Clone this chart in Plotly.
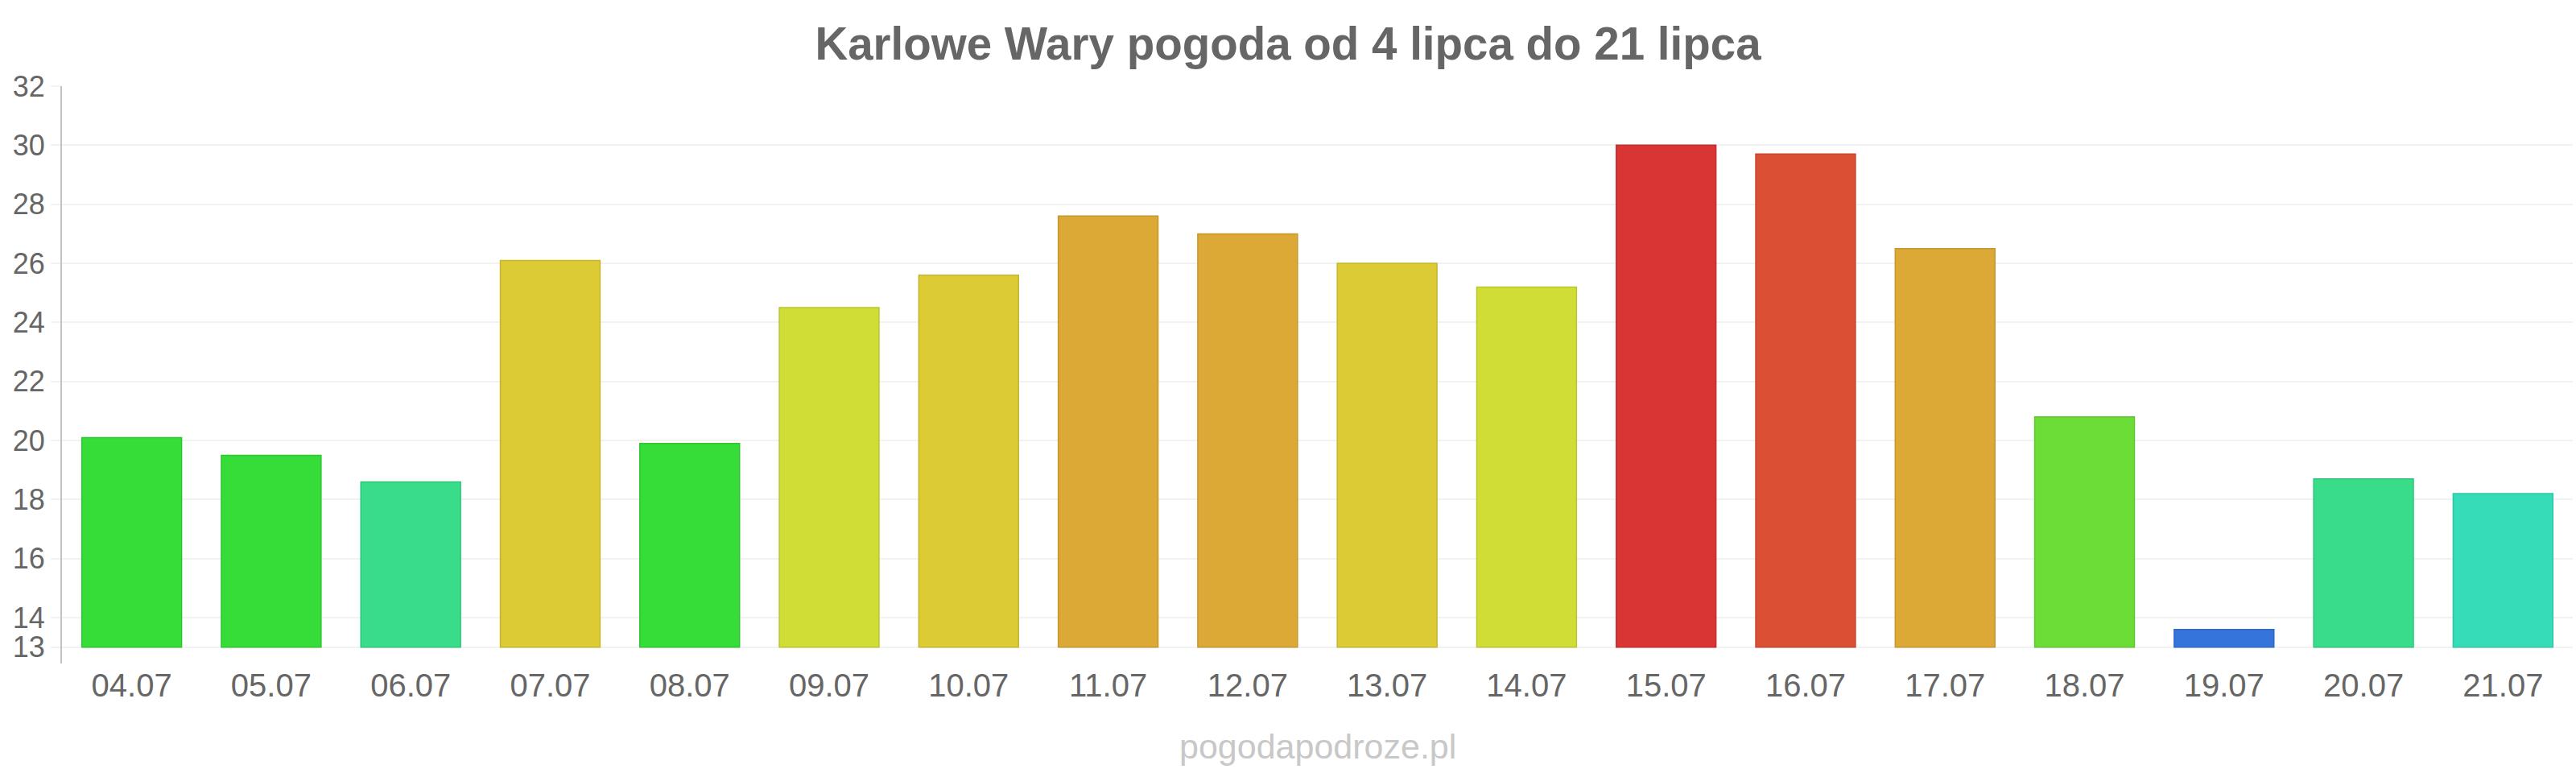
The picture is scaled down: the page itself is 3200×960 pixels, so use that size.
import plotly.graph_objects as go

dates = ["04.07", "05.07", "06.07", "07.07", "08.07", "09.07", "10.07", "11.07", "12.07",
         "13.07", "14.07", "15.07", "16.07", "17.07", "18.07", "19.07", "20.07", "21.07"]
temps = [20.1, 19.5, 18.6, 26.1, 19.9, 24.5, 25.6, 27.6, 27.0,
         26.0, 25.2, 30.0, 29.7, 26.5, 20.8, 13.6, 18.7, 18.2]
colors = ["#36dd38", "#36dd38", "#38dc89", "#dccb35", "#36dd38", "#cfdd36", "#dccb35", "#dca936", "#dca936",
          "#dccb35", "#cfdd36", "#da3535", "#db5035", "#dca936", "#6cdd37", "#3575db", "#38dc89", "#36dcb8"]
line_colors = ["#2ec630", "#2ec630", "#2fc67a", "#c6b62e", "#2ec630", "#bac62f", "#c6b62e", "#c6972f", "#c6972f",
               "#c6b62e", "#bac62f", "#c42e2e", "#c5462e", "#c6972f", "#5fc62f", "#2e68c5", "#2fc67a", "#2fc6a5"]
y_ticks = [13, 14, 16, 18, 20, 22, 24, 26, 28, 30, 32]
base_value = 13
title_text = "Karlowe Wary pogoda od 4 lipca do 21 lipca"
watermark = "pogodapodroze.pl"

fig = go.Figure()
fig.add_trace(go.Bar(
    x=dates,
    y=[t - base_value for t in temps],
    base=base_value,
    customdata=temps,
    hovertemplate="%{x}: %{customdata}<extra></extra>",
    marker=dict(color=colors, line=dict(color=line_colors, width=1.5)),
    width=0.715,
))

fig.update_layout(
    width=3200, height=960,
    margin=dict(l=77, r=4, t=107, b=136),
    paper_bgcolor="white", plot_bgcolor="white",
    font=dict(family="Liberation Sans, Arial, sans-serif", color="#666666"),
    showlegend=False,
    title=dict(text="<b>" + title_text + "</b>", x=0.5, xanchor="center",
               y=0.944, yanchor="middle", yref="container",
               font=dict(size=56.5, color="#666666")),
    xaxis=dict(
        type="category", showgrid=False, showline=False, zeroline=False,
        ticks="", tickfont=dict(size=40, color="#666666"),
        range=[-0.5, len(dates) - 0.5],
    ),
    yaxis=dict(
        range=[12.45, 32], tickvals=y_ticks, ticktext=[str(v) for v in y_ticks],
        showgrid=True, gridcolor="#f2f2f2", gridwidth=2,
        showline=True, linecolor="#c2c2c2", linewidth=2,
        zeroline=False, ticks="outside", ticklen=12, tickcolor="#f2f2f2", tickwidth=2,
        tickfont=dict(size=36, color="#666666"),
    ),
    bargap=0.285,
    annotations=[dict(
        text=watermark, xref="paper", yref="paper", x=0.5, y=-0.143,
        xanchor="center", yanchor="middle", showarrow=False,
        font=dict(size=43, color="#c8c8c8"),
    )],
)

fig.write_html("out.html")
